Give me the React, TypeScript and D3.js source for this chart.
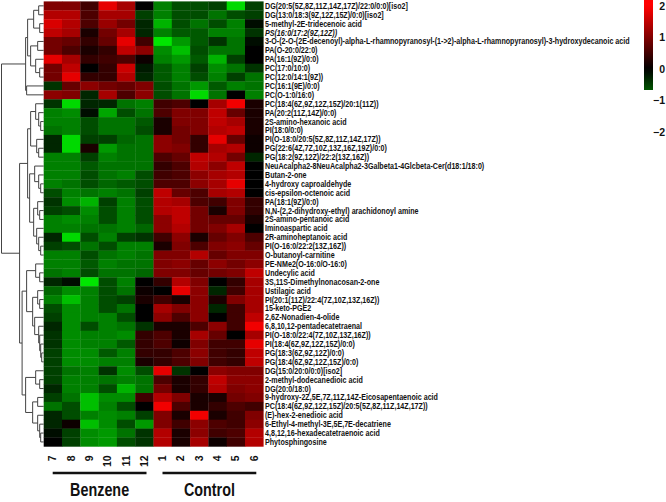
import React from "react";
import * as d3 from "d3";

const colLabels = ["7", "8", "9", "10", "11", "12", "1", "2", "3", "4", "5", "6"];

const rowLabels = [
  "DG(20:5(5Z,8Z,11Z,14Z,17Z)/22:0/0:0)[iso2]",
  "DG(13:0/18:3(9Z,12Z,15Z)/0:0)[iso2]",
  "5-methyl-2E-tridecenoic acid",
  "PS(16:0/17:2(9Z,12Z))",
  "3-O-(2-O-(2E-decenoyl)-alpha-L-rhamnopyranosyl-(1->2)-alpha-L-rhamnopyranosyl)-3-hydroxydecanoic acid",
  "PA(O-20:0/22:0)",
  "PA(16:1(9Z)/0:0)",
  "PC(17:0/10:0)",
  "PC(12:0/14:1(9Z))",
  "PC(16:1(9E)/0:0)",
  "PC(O-1:0/16:0)",
  "PC(18:4(6Z,9Z,12Z,15Z)/20:1(11Z))",
  "PA(20:2(11Z,14Z)/0:0)",
  "2S-amino-hexanoic acid",
  "PI(18:0/0:0)",
  "PI(O-18:0/20:5(5Z,8Z,11Z,14Z,17Z))",
  "PG(22:6(4Z,7Z,10Z,13Z,16Z,19Z)/0:0)",
  "PG(18:2(9Z,12Z)/22:2(13Z,16Z))",
  "NeuAcalpha2-8NeuAcalpha2-3Galbeta1-4Glcbeta-Cer(d18:1/18:0)",
  "Butan-2-one",
  "4-hydroxy caproaldehyde",
  "cis-epsilon-octenoic acid",
  "PA(18:1(9Z)/0:0)",
  "N,N-(2,2-dihydroxy-ethyl) arachidonoyl amine",
  "2S-amino-pentanoic acid",
  "Iminoaspartic acid",
  "2R-aminoheptanoic acid",
  "PI(O-16:0/22:2(13Z,16Z))",
  "O-butanoyl-carnitine",
  "PE-NMe2(O-16:0/O-16:0)",
  "Undecylic acid",
  "3S,11S-Dimethylnonacosan-2-one",
  "Ustilagic acid",
  "PI(20:1(11Z)/22:4(7Z,10Z,13Z,16Z))",
  "15-keto-PGE2",
  "2,6Z-Nonadien-4-olide",
  "6,8,10,12-pentadecatetraenal",
  "PI(O-18:0/22:4(7Z,10Z,13Z,16Z))",
  "PI(18:4(6Z,9Z,12Z,15Z)/0:0)",
  "PG(18:3(6Z,9Z,12Z)/0:0)",
  "PG(18:4(6Z,9Z,12Z,15Z)/0:0)",
  "DG(15:0/20:0/0:0)[iso2]",
  "2-methyl-dodecanedioic acid",
  "DG(20:0/18:0)",
  "9-hydroxy-2Z,5E,7Z,11Z,14Z-Eicosapentaenoic acid",
  "PC(18:4(6Z,9Z,12Z,15Z)/20:5(5Z,8Z,11Z,14Z,17Z))",
  "(E)-hex-2-enedioic acid",
  "6-Ethyl-4-methyl-3E,5E,7E-decatriene",
  "4,8,12,16-hexadecatetraenoic acid",
  "Phytosphingosine",
];

const italicRows = [3];

const values = [
  [1.0, 1.0, 0.5, 1.8, 1.3, 0.0, -1.0, -0.6, -0.6, -0.5, -1.7, -0.5],
  [1.4, 1.4, 0.6, 1.3, 1.3, -0.5, -1.0, -0.6, -0.6, -0.9, -0.6, -0.5],
  [1.7, 1.4, 0.6, 1.2, 0.9, -0.3, -1.4, -0.6, -0.9, -0.6, -1.0, -0.1],
  [1.5, 1.3, 0.2, 0.9, 1.3, -0.3, -1.0, -0.7, -0.7, -1.0, -1.0, -0.4],
  [0.9, 0.8, 0.4, 0.8, 1.8, 0.5, -1.8, -1.2, -0.7, -0.4, -0.9, -0.1],
  [0.9, 0.6, 0.2, 0.4, 1.5, 1.1, -1.1, -1.5, -0.6, -0.9, -0.9, 0.0],
  [1.8, 1.3, 0.4, 0.5, 0.6, 0.1, -1.0, -1.2, -0.7, -1.4, -0.5, 0.0],
  [0.9, 1.5, 0.0, 0.4, 1.6, -0.2, -0.7, -1.0, -0.5, -1.1, -0.9, -0.4],
  [0.9, 1.8, 0.4, 0.4, 1.4, -0.3, -0.7, -1.0, -0.6, -1.0, -0.5, -0.9],
  [-0.4, 0.8, 1.1, 0.9, 0.8, 1.0, -0.6, -0.9, -1.2, -0.7, -1.0, -0.9],
  [1.1, 1.0, -0.3, 1.3, 0.6, 1.1, -0.6, -0.9, -1.7, -0.9, 0.0, -1.0],
  [-0.4, -1.7, -0.3, -0.3, -0.9, -1.0, 0.5, 0.6, 0.0, 1.3, 1.9, 0.2],
  [-1.0, -1.1, -0.1, -1.3, -0.6, -0.9, 0.6, 1.0, 1.0, 1.5, 0.8, 0.2],
  [-1.0, -1.0, -0.6, -0.9, -0.9, -0.7, 0.2, 1.0, 1.0, 1.5, 1.3, 0.2],
  [-0.9, -1.0, -0.6, -0.9, -0.9, -0.6, 0.2, 0.9, 1.0, 1.4, 1.5, 0.2],
  [-0.3, -1.7, -0.5, -0.5, -0.8, -0.9, 1.1, 0.9, 0.4, 1.8, 0.8, 0.1],
  [-0.3, -1.7, 0.2, -1.2, -0.9, -0.9, 1.1, 1.0, 0.4, 1.3, 1.4, 0.1],
  [-1.0, -1.0, -0.5, -1.0, -0.9, -0.9, 0.6, 0.8, 1.5, 1.4, 0.9, -0.3],
  [-1.0, -1.0, -0.7, -0.9, -0.9, -0.9, 0.4, 0.6, 1.4, 1.1, 1.5, 0.0],
  [-1.0, -1.0, -0.6, -0.9, -1.0, -0.6, 0.5, 0.6, 1.1, 1.3, 1.4, 0.0],
  [-1.0, -0.9, -0.6, -0.8, -0.7, -0.6, 0.6, 0.6, 1.1, 1.3, 1.8, 0.0],
  [-0.6, -1.0, -0.9, -1.0, -0.9, -0.5, 1.5, 0.8, 0.6, 1.3, 1.4, 0.0],
  [-0.4, -1.1, -1.4, -0.5, -1.0, -0.6, 1.4, 1.3, 0.6, 0.5, 1.0, 0.4],
  [-0.5, -0.6, -1.1, -0.6, -1.0, -0.6, 1.4, 1.5, 0.9, 0.2, 1.0, 0.4],
  [-1.0, -1.1, -1.0, -0.6, -1.0, -0.6, 1.1, 1.5, 0.9, 0.8, 0.8, 0.2],
  [-1.0, -1.0, -0.9, -0.9, -1.0, -0.8, 1.1, 1.4, 0.9, 1.0, 1.3, 0.0],
  [-0.3, -1.7, -0.6, -1.0, -0.5, -0.4, 0.5, 1.1, 0.2, 0.8, 1.0, 0.6],
  [-0.5, -0.6, -0.9, -0.6, -1.0, -1.0, 0.2, 1.0, 0.6, 1.0, 1.1, 0.8],
  [-1.0, -1.0, -0.6, -0.9, -1.0, -0.9, 1.0, 1.0, 1.4, 0.8, 1.0, 1.0],
  [-1.0, -1.0, -0.7, -1.0, -0.9, -0.9, 1.0, 1.1, 0.8, 1.1, 0.9, 1.1],
  [-0.9, -1.0, -0.6, -0.9, -0.9, -0.8, 1.0, 1.0, 0.8, 0.9, 1.0, 1.5],
  [-0.3, -0.1, -1.8, -0.6, -1.0, 0.0, 0.4, 1.4, 1.0, 0.0, 0.4, 1.3],
  [-0.8, -1.1, -1.0, -0.6, -0.9, 0.1, 0.0, 1.8, 1.1, -0.3, 0.5, 1.3],
  [-1.0, -1.5, -1.0, -0.6, -0.5, 0.2, 0.5, 0.2, 1.1, 0.2, 1.0, 1.3],
  [-0.6, -1.1, -1.0, -0.6, -0.9, 0.0, 1.3, 1.0, 1.1, -0.3, 0.5, 1.3],
  [-0.5, -1.1, -1.0, -1.0, -0.6, 0.0, 1.1, 0.6, 1.1, 0.0, 0.5, 1.5],
  [-0.3, -1.1, -0.6, -1.0, -0.9, -0.4, 0.2, 0.2, 0.6, 1.1, 0.5, 1.9],
  [-0.4, -1.1, -1.0, -1.0, -1.1, 0.4, 0.6, 0.2, 1.3, 0.8, 0.0, 1.3],
  [-0.4, -1.1, -1.0, -1.0, -0.7, 0.4, 0.6, 0.1, 1.0, 0.5, 0.5, 1.8],
  [-0.5, -1.1, -1.1, -0.7, -1.0, 0.4, 0.4, 0.6, 1.1, 0.5, 0.4, 1.5],
  [-0.5, -1.1, -1.1, -1.0, -1.0, 0.2, 0.4, 0.6, 1.0, 0.5, 0.4, 1.5],
  [-0.5, -0.9, -1.0, -0.4, -1.1, -0.6, 1.8, -0.4, 0.0, 1.1, 1.0, 1.0],
  [-0.5, -1.0, -1.0, -0.9, -1.0, -0.9, 0.6, 0.2, 0.4, 1.5, 1.1, 1.1],
  [-0.3, -1.0, -1.0, -0.6, -1.4, -0.9, 0.9, 0.2, 0.4, 1.4, 1.0, 1.1],
  [-0.5, -0.9, -1.5, -1.1, -1.1, 0.5, 1.4, 1.0, 0.2, 0.2, 0.9, 1.0],
  [-0.9, -0.6, -1.5, -1.0, -0.6, 0.0, 1.9, 0.6, 0.2, 0.4, 0.6, 0.5],
  [-0.3, -0.6, -1.0, -1.1, -1.0, -0.5, 1.0, 0.2, 1.9, 0.2, 0.5, 1.0],
  [-0.3, 0.1, -1.5, -1.1, -0.6, -1.2, 1.0, 0.5, 1.1, 0.6, 0.5, 1.1],
  [-0.1, -0.5, -1.1, -1.2, -0.9, -0.4, 1.4, 0.2, 1.1, 0.5, 0.6, 1.4],
  [0.0, -0.5, -1.1, -1.2, -0.6, -0.4, 1.4, 0.2, 1.3, 0.1, 0.5, 1.4],
];

// Row dendrogram: [height, left, right]; leaves are row indices
const rowTree: any = [42,
  [18,
    [16,
      [10, [5, 0, 1], [4, 2, 3]],
      [13, [6, 4, 5], [8, 6, [4, 7, 8]]],
    ],
    [17, 9, 10],
  ],
  [24,
    [16,
      [13, [8, 11, [5, 12, [3, 13, 14]]], [7, 15, [5, 16, 17]]],
      [14, [9, 18, [5, 19, [3, 20, 21]]], [10, [6, 22, [4, 23, 24]], [7, 25, [5, 26, [3, 27, 28]]]]],
    ],
    [21.5,
      [17, [8, 29, [4, 30, 31]], [11, [6, 32, [4, 33, 34]], [9, 35, [5, 36, [4, 37, [3, 38, [2, 39, 40]]]]]]],
      [18, [8, 41, [4, 42, 43]], [11, [6, 44, 45], [6, 46, [4, 47, [3, 48, 49]]]]],
    ],
  ],
];

const groupNames = ["Benzene", "Control"];
const groupFirst = ["7", "1"];
const groupLast = ["12", "6"];
const legendTicks = [2, 1, 0, -1, -2];

const W = 666;
const H = 502;
const heat = { left: 43.7, right: 263.3, top: 1.4, bottom: 446.4 };
const narrow = 0.82;
const FONT = "'Liberation Sans', Arial, Helvetica, sans-serif";

export default function App() {
  const x = d3.scaleBand<string>().domain(colLabels).range([heat.left, heat.right]);
  const y = d3.scaleBand<number>().domain(d3.range(rowLabels.length)).range([heat.top, heat.bottom]);
  const color = d3.scaleLinear<string>().domain([-2, 0, 2]).range(["#00ff00", "#000000", "#ff0000"]).clamp(true);
  const hx = d3.scaleLinear().domain([0, 42]).range([heat.left, 1.5]);

  // dendrogram segments
  const segs: string[] = [];
  const walk = (node: any): { x: number; y: number } => {
    if (typeof node === "number") {
      return { x: heat.left, y: (y(node) as number) + y.bandwidth() / 2 };
    }
    const [h, l, r] = node;
    const a = walk(l);
    const b = walk(r);
    const nx = hx(h);
    segs.push(`M${a.x},${a.y}H${nx}V${b.y}H${b.x}`);
    return { x: nx, y: (a.y + b.y) / 2 };
  };
  walk(rowTree);

  const legendY = d3.scaleLinear().domain([2, -2]).range([6, 132]);
  const barTop = 0;
  const barBottom = 90;
  const stops = d3.range(0, 1.0001, 0.05).map((t) => ({
    offset: t,
    c: color(legendY.invert(barTop + t * (barBottom - barTop))),
  }));
  const fmt = d3.format("d");

  return (
    <svg
      width={W}
      height={H}
      style={{ position: "absolute", left: 0, top: 0, background: "#fff" }}
      fontFamily={FONT}
    >
      <defs>
        <linearGradient id="lg" x1="0" y1="0" x2="0" y2="1">
          {stops.map((s, i) => (
            <stop key={i} offset={s.offset} stopColor={s.c} />
          ))}
        </linearGradient>
      </defs>
      <rect x={0} y={0} width={W} height={H} fill="#fff" />
      {/* heatmap */}
      <g>
        {values.map((row, ri) =>
          row.map((v, ci) => (
            <rect
              key={`${ri}-${ci}`}
              x={x(colLabels[ci])}
              y={y(ri)}
              width={x.bandwidth() + 0.3}
              height={y.bandwidth() + 0.3}
              fill={color(v)}
            />
          ))
        )}
      </g>
      {/* dendrogram */}
      <path d={segs.join("")} fill="none" stroke="#444" strokeWidth={1} />
      {/* row labels */}
      <g transform={`translate(265,0) scale(0.84,1)`}>
        {rowLabels.map((lab, i) => (
          <text
            key={i}
            x={0}
            y={(y(i) as number) + y.bandwidth() / 2}
            dy="0.35em"
            fontSize={8.5}
            fontWeight="bold"
            fontStyle={italicRows.includes(i) ? "italic" : "normal"}
            fill="#111"
          >
            {lab}
          </text>
        ))}
      </g>
      {/* column labels */}
      {colLabels.map((c) => (
        <text
          key={c}
          transform={`translate(${(x(c) as number) + x.bandwidth() / 2 + 3.5},${heat.bottom + 9}) rotate(-90)`}
          textAnchor="end"
          fontSize={10.5}
          fontWeight="bold"
          fill="#111"
        >
          {c}
        </text>
      ))}
      {/* group bars and names */}
      {groupNames.map((g, i) => {
        const x0 = (x(groupFirst[i]) as number) + 9;
        const x1 = (x(groupLast[i]) as number) + x.bandwidth() - 7;
        return (
          <g key={g}>
            <line x1={x0} x2={x1} y1={473} y2={473} stroke="#111" strokeWidth={2.6} />
            <text
              transform={`translate(${(x0 + x1) / 2},496) scale(${narrow},1)`}
              textAnchor="middle"
              fontSize={17.5}
              fontWeight="bold"
              fill="#111"
            >
              {g}
            </text>
          </g>
        );
      })}
      {/* legend */}
      <rect x={644} y={barTop} width={9} height={barBottom - barTop} fill="url(#lg)" />
      {legendTicks.map((t) => (
        <text
          key={t}
          x={665}
          y={legendY(t)}
          dy="0.35em"
          textAnchor="end"
          fontSize={10.5}
          fontWeight="bold"
          fill="#111"
        >
          {fmt(t)}
        </text>
      ))}
    </svg>
  );
}
